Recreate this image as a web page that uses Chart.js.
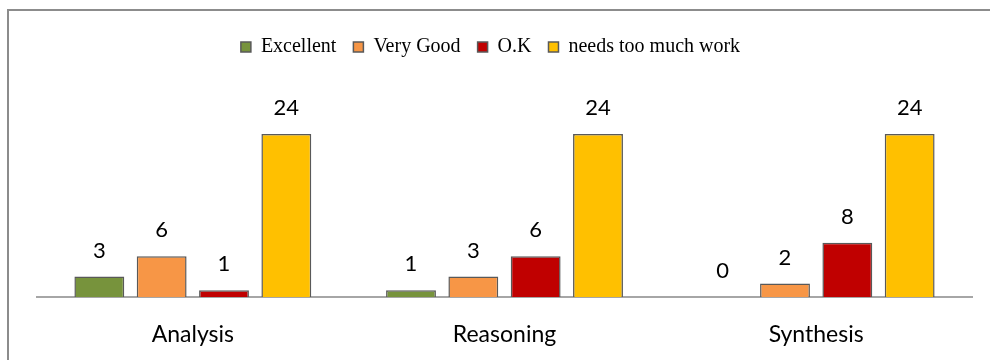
<!DOCTYPE html>
<html>
<head>
<meta charset="utf-8">
<script src="https://cdn.jsdelivr.net/npm/chart.js@4"></script>
<style>
  html, body { margin: 0; padding: 0; background: #fff; overflow: hidden; }
  canvas { display: block; }
</style>
</head>
<body>
<canvas id="skills-chart" width="990" height="360"></canvas>
<script>
// skill areas along the x axis
var categories = ["Analysis", "Reasoning", "Synthesis"];

// how many students landed in each rating
var excellent = [3, 1, 0];
var veryGood = [6, 3, 2];
var ok = [1, 6, 8];
var tooMuchWork = [24, 24, 24];

var seriesNames = ["Excellent", "Very Good", "O.K", "needs too much work"];
var seriesColors = ["#77933c", "#f79646", "#c00000", "#ffc000"];
var seriesValues = [excellent, veryGood, ok, tooMuchWork];

// number above each bar
var valueLabels = {
  id: "valueLabels",
  afterDatasetsDraw(chart) {
    var ctx = chart.ctx;
    ctx.save();
    ctx.font = "22px Lato";
    ctx.fillStyle = "#000";
    ctx.textAlign = "center";
    ctx.textBaseline = "middle";
    chart.data.datasets.forEach((ds, i) => {
      chart.getDatasetMeta(i).data.forEach((bar, j) => {
        ctx.fillText(String(ds.data[j]), bar.x, bar.y - 26);
      });
    });
    ctx.restore();
  }
};

// fixed legend height so the plot starts at the same place every time,
// and nudge the legend a bit to the left
var legendHeight = {
  id: "legendHeight",
  beforeInit(chart) {
    var fit = chart.legend.fit;
    chart.legend.fit = function () {
      fit.call(this);
      this.height = 46;
    };
  },
  afterLayout(chart) {
    chart.legend.left -= 14;
    chart.legend.right -= 14;
  }
};

// grey frame on the top and left edge
var frame = {
  id: "frame",
  beforeDraw(chart) {
    var ctx = chart.ctx;
    ctx.save();
    ctx.strokeStyle = "#8c8c8c";
    ctx.lineWidth = 2;
    ctx.beginPath();
    ctx.moveTo(8, chart.height);
    ctx.lineTo(8, 10);
    ctx.lineTo(chart.width, 10);
    ctx.stroke();
    ctx.restore();
  }
};

new Chart("skills-chart", {
  type: "bar",
  data: {
    labels: categories,
    datasets: seriesNames.map((name, i) => ({
      label: name,
      data: seriesValues[i],
      backgroundColor: seriesColors[i],
      borderColor: "#595959",
      borderWidth: 1.5,
      barPercentage: 0.8,
      categoryPercentage: 0.8
    }))
  },
  options: {
    responsive: false,
    animation: false,
    layout: {
      padding: { left: 37, right: 18, top: 20, bottom: 0 }
    },
    plugins: {
      legend: {
        position: "top",
        labels: {
          boxWidth: 10,
          boxHeight: 10,
          padding: 17,
          color: "#000",
          font: { family: "Liberation Serif", size: 20 }
        }
      },
      tooltip: { enabled: false }
    },
    scales: {
      x: {
        grid: { display: false, drawTicks: false },
        border: { color: "#a6a6a6", width: 2 },
        ticks: {
          padding: 24,
          color: "#000",
          font: { family: "Lato", size: 23 }
        },
        afterFit(scale) {
          scale.height = 63;
        }
      },
      y: {
        display: false,
        min: 0,
        max: 34
      }
    }
  },
  plugins: [valueLabels, legendHeight, frame]
});
</script>
</body>
</html>
